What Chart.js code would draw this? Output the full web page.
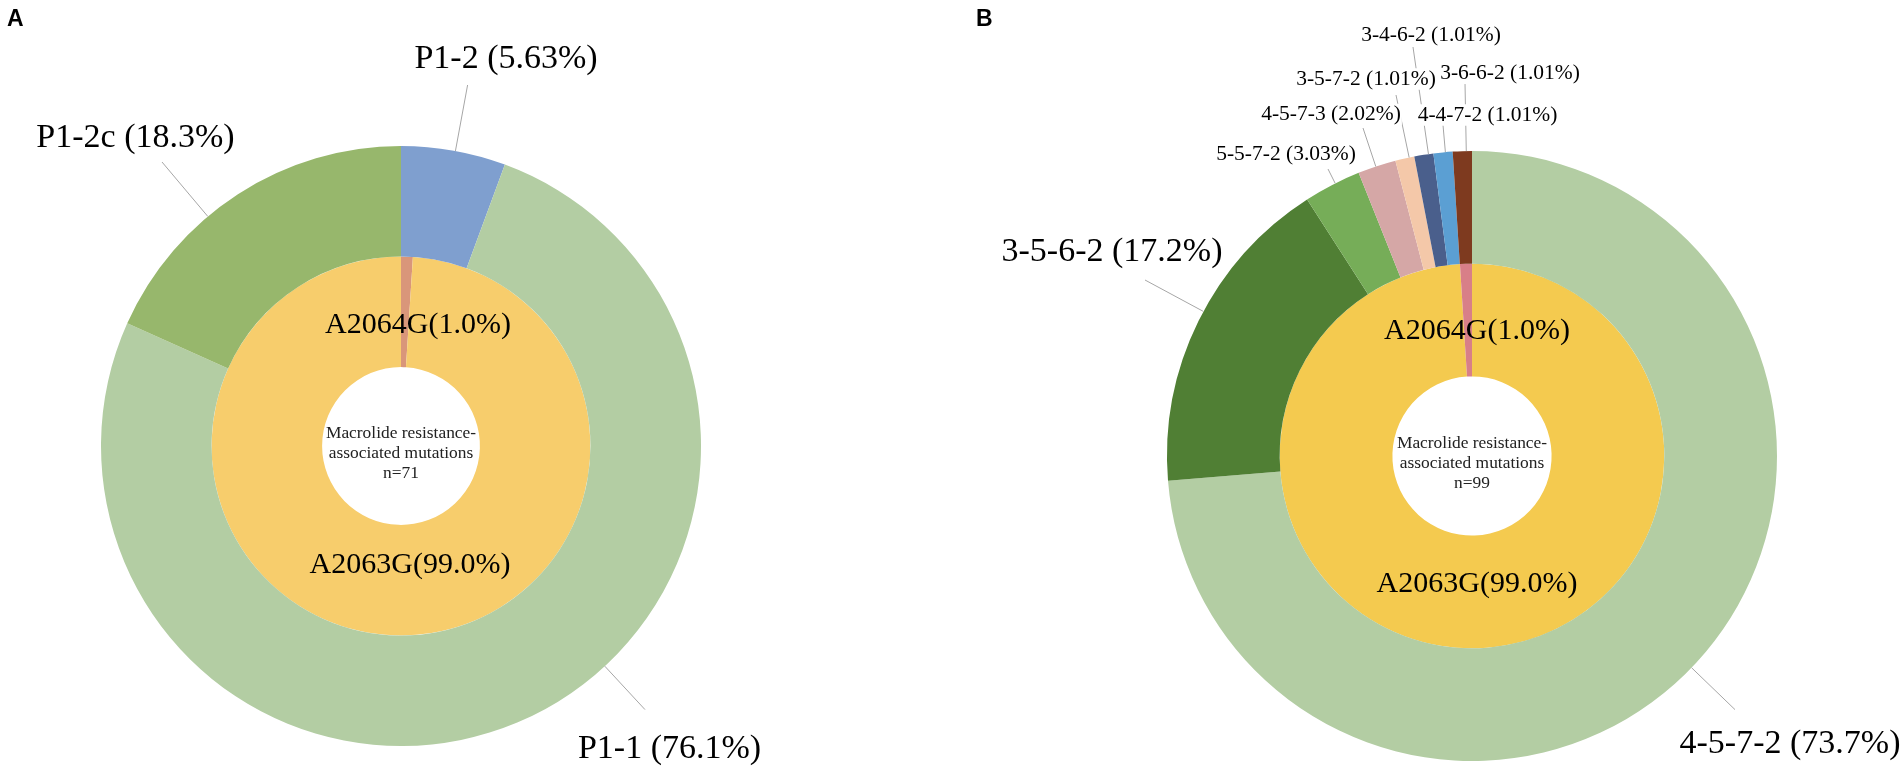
<!DOCTYPE html>
<html>
<head>
<meta charset="utf-8">
<script src="https://cdn.jsdelivr.net/npm/chart.js@4.4.0/dist/chart.umd.min.js"></script>
<style>
  html, body { margin: 0; padding: 0; background: #ffffff; width: 1901px; height: 770px; overflow: hidden; }
  #wrap { position: relative; width: 1901px; height: 770px; }
  .layer { position: absolute; left: 0; top: 0; width: 1901px; height: 770px; }
  .tag { position: absolute; font-family: "Liberation Sans", Arial, sans-serif; font-weight: bold; font-size: 23px; line-height: 1; color: #000; }
</style>
</head>
<body>
<div id="wrap">
  <div class="layer"><canvas id="chartA"></canvas></div>
  <div class="layer"><canvas id="chartB"></canvas></div>
  <div class="tag" style="left:7px; top:7px;">A</div>
  <div class="tag" style="left:976px; top:7px;">B</div>
</div>
<script>
// ---------------- DATA ----------------
// Panel A (n = 71)
const outerLabelsA = ['P1-2', 'P1-1', 'P1-2c'];
const outerValuesA = [5.63, 76.1, 18.3];
const innerLabelsA = ['A2064G', 'A2063G'];
const innerValuesA = [1.0, 99.0];
const totalA = 71;

// Panel B (n = 99)
const outerLabelsB = ['4-5-7-2', '3-5-6-2', '5-5-7-2', '4-5-7-3', '3-5-7-2', '3-4-6-2', '4-4-7-2', '3-6-6-2'];
const outerValuesB = [73.7, 17.2, 3.03, 2.02, 1.01, 1.01, 1.01, 1.01];
const innerLabelsB = ['A2063G', 'A2064G'];
const innerValuesB = [99.0, 1.0];
const totalB = 99;

const centerTitle = ['Macrolide resistance-', 'associated mutations'];

// ---------------- STYLE ----------------
const outerColorsA = ['#7F9FCF', '#B3CDA3', '#97B76C'];
const innerColorsA = ['#D9967A', '#F7CD6C'];
const outerColorsB = ['#B3CDA3', '#507F34', '#76AD58', '#D5A7A6', '#F4C8A9', '#4A5F8C', '#5B9FD3', '#7E3A1F'];
const innerColorsB = ['#F4CA4F', '#D87F88'];

const SERIF = '"Liberation Serif", "Times New Roman", serif';

// label layout (offsets in px relative to the doughnut centre)
const layoutA = {
  outer: [
    { lbl: [105, -387], end: [66.6, -361], size: 34 },
    { lbl: [268.5, 303], end: [244, 263.6], size: 34 },
    { lbl: [-265.5, -308], end: [-239, -284], size: 34 }
  ],
  inner: [
    { lbl: [17, -121], size: 30 },
    { lbl: [9, 119], size: 30 }
  ],
  centerSize: 17.4,
  centerLines: [-13, 7, 27]
};
const layoutB = {
  outer: [
    { lbl: [318, 288], end: [263, 253.6], size: 34 },
    { lbl: [-360, -204], end: [-327, -176], size: 34 },
    { lbl: [-186, -302], end: [-144, -287], size: 21.5 },
    { lbl: [-141, -341.5], end: [-109, -328], size: 21.5 },
    { lbl: [-106, -377], end: [-76, -361], size: 21.5 },
    { lbl: [-41, -420.5], end: [-59, -409], size: 21.5 },
    { lbl: [15.5, -341], end: [-29, -331], size: 21.5 },
    { lbl: [38, -382.7], end: [-7, -373], size: 21.5 }
  ],
  inner: [
    { lbl: [5, 128], size: 30 },
    { lbl: [5, -125], size: 30 }
  ],
  centerSize: 17.4,
  centerLines: [-13, 7, 27]
};

// ---------------- PLUGIN ----------------
const labelPlugin = {
  id: 'ringLabels',
  afterDatasetsDraw(chart, args, opts) {
    const ctx = chart.ctx;
    const lay = opts.layout;
    const outerMeta = chart.getDatasetMeta(0);
    const innerMeta = chart.getDatasetMeta(1);
    const first = outerMeta.data[0];
    const cx = first.x, cy = first.y;
    const outerDs = chart.data.datasets[0];
    const innerDs = chart.data.datasets[1];
    const TAU = Math.PI * 2;

    ctx.save();
    // leader lines
    ctx.strokeStyle = '#A6A6A6';
    ctx.lineWidth = 1;
    outerMeta.data.forEach((arc, i) => {
      const L = lay.outer[i];
      if (!L || !L.end) return;
      const s = arc.startAngle, e = arc.endAngle;
      let a = Math.atan2(L.end[1], L.end[0]);
      while (a < s) a += TAU;
      while (a >= s + TAU) a -= TAU;
      if (a > e) {
        const dE = a - e, dS = s + TAU - a;
        a = dE < dS ? e : s;
      }
      const R = arc.outerRadius;
      ctx.beginPath();
      ctx.moveTo(cx + R * Math.cos(a), cy + R * Math.sin(a));
      ctx.lineTo(cx + L.end[0], cy + L.end[1]);
      ctx.stroke();
    });

    // outer labels (white backing, like Excel data labels)
    ctx.textAlign = 'center';
    ctx.textBaseline = 'middle';
    outerMeta.data.forEach((arc, i) => {
      const L = lay.outer[i];
      if (!L) return;
      const text = outerDs.labels[i] + ' (' + String(outerDs.data[i]) + '%)';
      ctx.font = L.size + 'px ' + SERIF;
      const w = ctx.measureText(text).width;
      const x = cx + L.lbl[0], y = cy + L.lbl[1];
      ctx.fillStyle = '#ffffff';
      ctx.fillRect(x - w / 2 - 1, y - L.size * 0.5, w + 2, L.size * 1.0);
      ctx.fillStyle = '#000000';
      ctx.fillText(text, x, y);
    });

    // inner labels
    innerMeta.data.forEach((arc, i) => {
      const L = lay.inner[i];
      if (!L) return;
      const text = innerDs.labels[i] + '(' + Number(innerDs.data[i]).toFixed(1) + '%)';
      ctx.font = L.size + 'px ' + SERIF;
      ctx.fillStyle = '#000000';
      ctx.fillText(text, cx + L.lbl[0], cy + L.lbl[1]);
    });

    // centre text
    ctx.font = lay.centerSize + 'px ' + SERIF;
    ctx.fillStyle = '#222222';
    const lines = centerTitle.concat(['n=' + opts.total]);
    lines.forEach((t, k) => ctx.fillText(t, cx, cy + lay.centerLines[k]));
    ctx.restore();
  }
};

function makeChart(id, oL, oV, oC, iL, iV, iC, total, lay, padding, cutout) {
  return new Chart(document.getElementById(id), {
    type: 'doughnut',
    data: {
      datasets: [
        { labels: oL, data: oV, backgroundColor: oC, borderWidth: 0, hoverOffset: 0 },
        { labels: iL, data: iV, backgroundColor: iC, borderWidth: 0, hoverOffset: 0 }
      ]
    },
    options: {
      responsive: true,
      maintainAspectRatio: false,
      animation: false,
      cutout: cutout,
      rotation: 0,
      layout: { padding: padding },
      events: [],
      plugins: {
        legend: { display: false },
        tooltip: { enabled: false },
        ringLabels: { layout: lay, total: total }
      }
    },
    plugins: [labelPlugin]
  });
}

// Panel A: centre (401, 446), outer radius 300
makeChart('chartA', outerLabelsA, outerValuesA, outerColorsA, innerLabelsA, innerValuesA, innerColorsA,
  totalA, layoutA, { left: 101, right: 1200, top: 146, bottom: 24 }, '26.3%');
// Panel B: centre (1472, 456), outer radius 305
makeChart('chartB', outerLabelsB, outerValuesB, outerColorsB, innerLabelsB, innerValuesB, innerColorsB,
  totalB, layoutB, { left: 1167, right: 124, top: 151, bottom: 9 }, '26.1%');
</script>
</body>
</html>
